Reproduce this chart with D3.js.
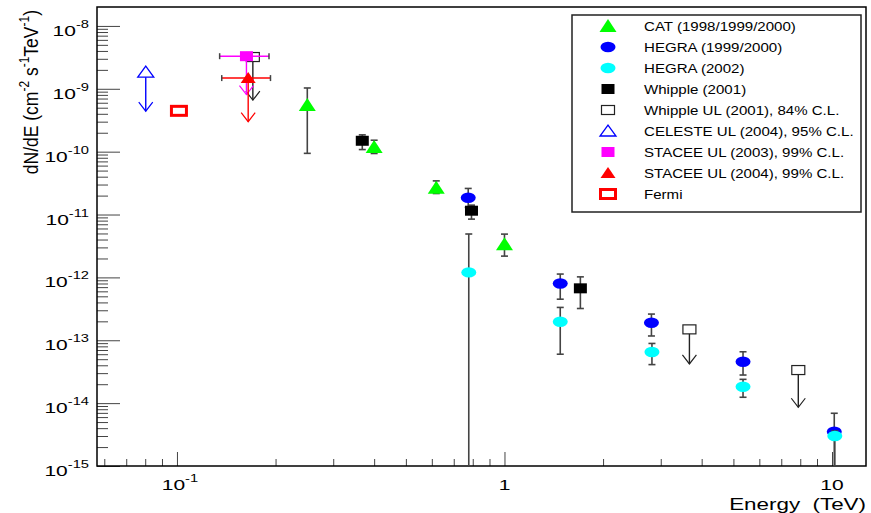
<!DOCTYPE html>
<html><head><meta charset="utf-8">
<script src="https://cdn.jsdelivr.net/npm/d3@7"></script>
<style>body{margin:0;background:#fff} svg{display:block} text{font-family:"Liberation Sans",Arial,Helvetica,sans-serif;fill:#000}</style>
</head><body><svg id="c" width="871" height="513"></svg>
<script>
// ---------- data ----------
const catE  = [0.250, 0.400, 0.619, 1.00];
const catF  = [5.5e-10, 1.19e-10, 2.66e-11, 3.38e-12];
const catHi = [1.03e-9, 1.52e-10, 3.43e-11, 4.88e-12];
const catLo = [9.4e-11, 9.35e-11, 2.16e-11, 2.18e-12];

const hegra99E  = [0.775, 1.48, 2.81, 5.35, 10.16];
const hegra99F  = [1.85e-11, 8.0e-13, 1.90e-13, 4.55e-14, 3.5e-15];
const hegra99Hi = [2.6e-11, 1.13e-12, 2.61e-13, 6.56e-14, 6.9e-15];
const hegra99Lo = [1.3e-11, 4.5e-13, 1.17e-13, 2.8e-14, 1e-16];

const hegra02E  = [0.778, 1.48, 2.82, 5.35, 10.2];
const hegra02F  = [1.2e-12, 1.97e-13, 6.5e-14, 1.82e-14, 3.0e-15];
const hegra02Hi = [4.9e-12, 3.33e-13, 8.9e-14, 2.39e-14, 3.6e-15];
const hegra02Lo = [1e-16, 6.0e-14, 4.1e-14, 1.24e-14, 1e-16];

const whippleE  = [0.368, 0.793, 1.705];
const whippleF  = [1.49e-10, 1.15e-11, 6.7e-13];
const whippleHi = [1.85e-10, 1.41e-11, 1.02e-12];
const whippleLo = [1.08e-10, 8.45e-12, 3.2e-13];

const whippleUlE   = [0.1705, 3.67, 7.89];
const whippleUlF   = [3.2e-9, 1.49e-13, 3.36e-14];
const whippleUlTip = [6.6e-10, 4.2e-14, 8.6e-15];

const celesteE   = [0.0803];
const celesteF   = [1.84e-9];
const celesteTip = [4.4e-10];

const stacee03E   = [0.163];
const stacee03F   = [3.3e-9];
const stacee03ELo = [0.135];
const stacee03EHi = [0.191];
const stacee03Tip = [8.1e-10];

const stacee04E   = [0.165];
const stacee04F   = [1.48e-9];
const stacee04ELo = [0.137];
const stacee04EHi = [0.193];
const stacee04Tip = [3.0e-10];

const fermiE = [0.1014];
const fermiF = [4.46e-10];

const legendLabels = ["CAT (1998/1999/2000)", "HEGRA (1999/2000)", "HEGRA (2002)", "Whipple (2001)",
  "Whipple UL (2001), 84% C.L.", "CELESTE UL (2004), 95% C.L.", "STACEE UL (2003), 99% C.L.",
  "STACEE UL (2004), 99% C.L.", "Fermi"];
const yDecades = [-15, -14, -13, -12, -11, -10, -9, -8];
const xMajorTicks = [0.1, 1, 10];
const xTickBase = ["10", "1", "10"];
const xTickExp  = ["-1", "", ""];

// ---------- layout ----------
const svg = d3.select("#c");
const L = 97, R = 866, T = 7, B = 466;
const x = d3.scaleLog().domain([0.057, 12.7]).range([L, R]);
const y = d3.scaleLog().domain([1e-15, 2e-8]).range([B, T]);
const FONT_SX = 1.4;

svg.append("defs").append("clipPath").attr("id", "clip")
  .append("rect").attr("x", L).attr("y", T).attr("width", R - L).attr("height", B - T);

// ticks
const xMinor = [], yMinor = [];
for (let e = -2; e <= 1; e++) for (let m = 2; m <= 9; m++) {
  const v = m * Math.pow(10, e);
  if (v > x.domain()[0] && v < x.domain()[1]) xMinor.push(v);
}
for (let e = -15; e <= -8; e++) for (let m = 2; m <= 9; m++) {
  const v = m * Math.pow(10, e);
  if (v > y.domain()[0] && v < y.domain()[1]) yMinor.push(v);
}
function styleAxis(g) {
  g.select(".domain").remove();
  g.selectAll(".tick line").attr("stroke", "#444").attr("stroke-width", 1);
  g.selectAll(".tick text").remove();
}
svg.append("g").attr("transform", `translate(0,${B})`)
  .call(d3.axisBottom(x).tickValues(xMinor).tickSize(-7).tickFormat("")).call(styleAxis);
svg.append("g").attr("transform", `translate(0,${B})`)
  .call(d3.axisBottom(x).tickValues(xMajorTicks).tickSize(-14).tickFormat("")).call(styleAxis);
svg.append("g").attr("transform", `translate(${L},0)`)
  .call(d3.axisLeft(y).tickValues(yMinor).tickSize(-11).tickFormat("")).call(styleAxis);
svg.append("g").attr("transform", `translate(${L},0)`)
  .call(d3.axisLeft(y).tickValues(yDecades.map(e => Math.pow(10, e))).tickSize(-23).tickFormat("")).call(styleAxis);

// frame
svg.append("rect").attr("x", L).attr("y", T).attr("width", R - L).attr("height", B - T)
  .attr("fill", "none").attr("stroke", "#000").attr("stroke-width", 1.5);

// tick labels
yDecades.forEach(e => {
  const t = svg.append("g").attr("transform", `translate(89,${y(Math.pow(10, e))}) scale(${FONT_SX},1)`)
    .append("text").attr("text-anchor", "end").attr("y", 10);
  t.append("tspan").attr("font-size", 15).text("10");
  t.append("tspan").attr("font-size", 10.5).attr("dy", -8).text(String(e));
});
xMajorTicks.forEach((v, i) => {
  const t = svg.append("g").attr("transform", `translate(${x(v) + (xTickExp[i] ? 3 : 0)},490) scale(${FONT_SX},1)`)
    .append("text").attr("text-anchor", "middle");
  t.append("tspan").attr("font-size", 15).text(xTickBase[i]);
  if (xTickExp[i]) t.append("tspan").attr("font-size", 10.5).attr("dy", -8).text(xTickExp[i]);
});
// axis titles
svg.append("g").attr("transform", `translate(866,510) scale(1.4,1)`)
  .append("text").attr("text-anchor", "end").attr("font-size", 16).attr("xml:space", "preserve")
  .text("Energy  (TeV)");
{
  const t = svg.append("g").attr("transform", `translate(38,10) rotate(-90) scale(1,1.15)`)
    .append("text").attr("text-anchor", "end").attr("font-size", 17.5);
  t.append("tspan").text("dN/dE (cm");
  t.append("tspan").attr("font-size", 12).attr("dy", -7.5).text("-2");
  t.append("tspan").attr("dy", 7.5).text(" s");
  t.append("tspan").attr("font-size", 12).attr("dy", -7.5).text("-1");
  t.append("tspan").attr("dy", 7.5).text("TeV");
  t.append("tspan").attr("font-size", 12).attr("dy", -7.5).text("-1");
  t.append("tspan").attr("dy", 7.5).text(")");
}

// ---------- marks ----------
const plot = svg.append("g").attr("clip-path", "url(#clip)");
const ERR = "#444";

function marker(g, type, cx, cy, color) {
  switch (type) {
    case "tri":
      g.append("path").attr("d", `M${cx - 8.5},${cy + 6}L${cx + 8.5},${cy + 6}L${cx},${cy - 7}Z`).attr("fill", color);
      break;
    case "stri":
      g.append("path").attr("d", `M${cx - 7.5},${cy + 5}L${cx + 7.5},${cy + 5}L${cx},${cy - 6}Z`).attr("fill", color);
      break;
    case "otri":
      g.append("path").attr("d", `M${cx - 8},${cy + 5}L${cx + 8},${cy + 5}L${cx},${cy - 6}Z`)
        .attr("fill", "#fff").attr("stroke", color).attr("stroke-width", 1.3);
      break;
    case "ell":
      g.append("ellipse").attr("cx", cx).attr("cy", cy).attr("rx", 7.5).attr("ry", 5.2).attr("fill", color);
      break;
    case "sq":
      g.append("rect").attr("x", cx - 6.5).attr("y", cy - 5).attr("width", 13).attr("height", 10).attr("fill", color);
      break;
    case "osq":
      g.append("rect").attr("x", cx - 6.5).attr("y", cy - 4.5).attr("width", 13).attr("height", 9)
        .attr("fill", "#fff").attr("stroke", color).attr("stroke-width", 1.2);
      break;
    case "fsq":
      g.append("rect").attr("x", cx - 7.5).attr("y", cy - 4.5).attr("width", 15).attr("height", 9)
        .attr("fill", "#fff").attr("stroke", color).attr("stroke-width", 3);
      break;
  }
}
function errY(g, E, lo, hi) {
  E.forEach((e, i) => {
    const cx = x(e);
    g.append("line").attr("x1", cx).attr("x2", cx).attr("y1", y(lo[i])).attr("y2", y(hi[i]))
      .attr("stroke", ERR).attr("stroke-width", 1.6);
    [lo[i], hi[i]].forEach(v => g.append("line").attr("x1", cx - 3.5).attr("x2", cx + 3.5)
      .attr("y1", y(v)).attr("y2", y(v)).attr("stroke", ERR).attr("stroke-width", 1.6));
  });
}
function errX(g, F, Elo, Ehi, color) {
  F.forEach((f, i) => {
    const cy = y(f);
    g.append("line").attr("x1", x(Elo[i])).attr("x2", x(Ehi[i])).attr("y1", cy).attr("y2", cy)
      .attr("stroke", color).attr("stroke-width", 1.5);
    [Elo[i], Ehi[i]].forEach(v => g.append("line").attr("x1", x(v)).attr("x2", x(v))
      .attr("y1", cy - 3).attr("y2", cy + 3).attr("stroke", ERR).attr("stroke-width", 1.5));
  });
}
function arrows(g, E, F, tip, color, w) {
  E.forEach((e, i) => {
    const cx = x(e), ty = y(tip[i]);
    g.append("line").attr("x1", cx).attr("x2", cx).attr("y1", y(F[i])).attr("y2", ty)
      .attr("stroke", color).attr("stroke-width", w);
    g.append("path").attr("d", `M${cx - 7},${ty - 9}L${cx},${ty}L${cx + 7},${ty - 9}`)
      .attr("fill", "none").attr("stroke", color).attr("stroke-width", 1.2);
  });
}
function points(g, E, F, type, color) {
  E.forEach((e, i) => marker(g, type, x(e), y(F[i]), color));
}

// CAT
errY(plot, catE, catLo, catHi);
points(plot, catE, catF, "tri", "#00ff00");
// HEGRA 1999/2000
errY(plot, hegra99E, hegra99Lo, hegra99Hi);
points(plot, hegra99E, hegra99F, "ell", "#0000ff");
// HEGRA 2002
errY(plot, hegra02E, hegra02Lo, hegra02Hi);
points(plot, hegra02E, hegra02F, "ell", "#00ffff");
// Whipple
errY(plot, whippleE, whippleLo, whippleHi);
points(plot, whippleE, whippleF, "sq", "#000");
// Whipple UL
arrows(plot, whippleUlE, whippleUlF, whippleUlTip, "#222", 1.4);
points(plot, whippleUlE, whippleUlF, "osq", "#222");
// CELESTE UL
arrows(plot, celesteE, celesteF, celesteTip, "#0000ff", 1.4);
points(plot, celesteE, celesteF, "otri", "#0000ff");
// STACEE 2003
errX(plot, stacee03F, stacee03ELo, stacee03EHi, "#ff00ff");
arrows(plot, stacee03E, stacee03F, stacee03Tip, "#ff00ff", 1.4);
points(plot, stacee03E, stacee03F, "sq", "#ff00ff");
// STACEE 2004
errX(plot, stacee04F, stacee04ELo, stacee04EHi, "#ff0000");
arrows(plot, stacee04E, stacee04F, stacee04Tip, "#ff0000", 1.4);
points(plot, stacee04E, stacee04F, "stri", "#ff0000");
// Fermi
points(plot, fermiE, fermiF, "fsq", "#ff0000");

// ---------- legend ----------
const legTypes  = ["tri", "ell", "ell", "sq", "osq", "otri", "sq", "stri", "fsq"];
const legColors = ["#00ff00", "#0000ff", "#00ffff", "#000", "#222", "#0000ff", "#ff00ff", "#ff0000", "#ff0000"];
const leg = svg.append("g");
leg.append("rect").attr("x", 572).attr("y", 15).attr("width", 289).attr("height", 197)
  .attr("fill", "#fff").attr("stroke", "#222").attr("stroke-width", 1.5);
legendLabels.forEach((lab, i) => {
  const ry = 26 + i * 21;
  marker(leg, legTypes[i], 608, ry, legColors[i]);
  leg.append("g").attr("transform", `translate(644,${ry + 4.5}) scale(1.16,1)`)
    .append("text").attr("font-size", 13).text(lab);
});
</script>
</body></html>
